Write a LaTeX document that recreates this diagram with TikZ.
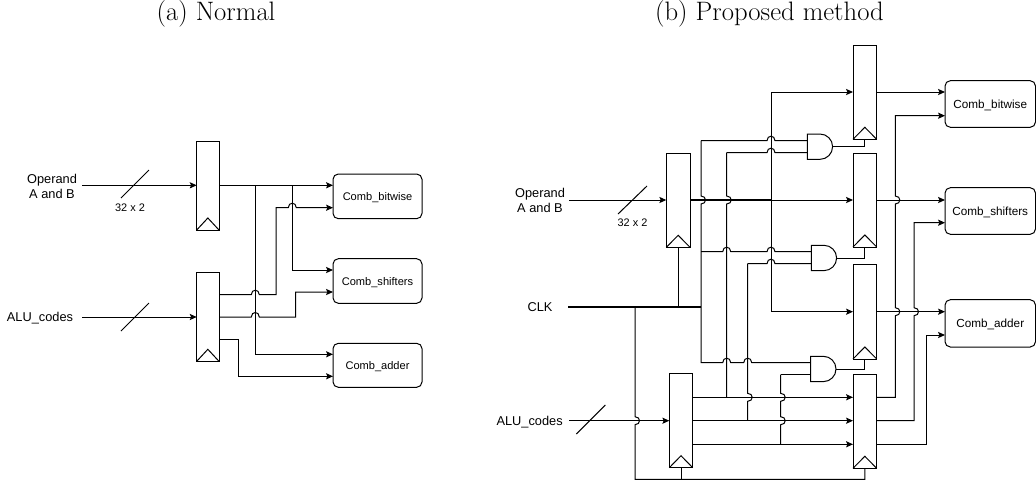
\documentclass[tikz,border=0pt]{standalone}
\usepackage{fontspec}
\setmainfont{Liberation Sans}
\newfontfamily\capfont{Latin Modern Roman}
\usetikzlibrary{arrows.meta}
\tikzset{
  x=0.75pt,y=-0.75pt,
  wire/.style={line width=0.75pt,black,line join=miter},
  fat/.style={line width=1.1pt,black},
  arr/.style={wire,-{Stealth[length=5.2pt,width=4.6pt,inset=1pt]}},
  rarr/.style={wire,{Stealth[length=5.2pt,width=4.6pt,inset=1pt]}-},
  regbox/.style={draw,line width=0.75pt,rectangle,inner sep=0pt,outer sep=0pt},
  combbox/.style={draw,line width=0.75pt,rectangle,rounded corners=4pt,inner sep=0pt,outer sep=0pt,align=center,text depth=0pt},
  lab/.style={inner sep=0pt,font=\fontsize{9.6pt}{11.6pt}\selectfont,align=center},
  small/.style={inner sep=0pt,font=\fontsize{8.2pt}{10pt}\selectfont},
  caption/.style={inner sep=0pt,font=\capfont\fontsize{20pt}{24pt}\selectfont},
}
% horizontal wire hopping up over a vertical one (x, y), left to right
\newcommand{\hj}[2]{-- (#1-4,#2) .. controls (#1-4,#2-6) and (#1+4,#2-6) .. (#1+4,#2)}
% vertical wire hopping right over a horizontal one (x, y), top to bottom
\newcommand{\vj}[2]{-- (#1,#2-4) .. controls (#1+6,#2-4) and (#1+6,#2+4) .. (#1,#2+4)}
% register: name, x1, y1, x2, y2
\newcommand{\regist}[5]{%
  \node[regbox,minimum width={(#4-#2)*0.75pt},minimum height={(#5-#3)*0.75pt}] (#1) at ({(#2+#4)/2},{(#3+#5)/2}) {};
  \draw[line width=0.75pt,line join=miter] (#1.south west) -- ([yshift=9pt]#1.south) -- (#1.south east);}
% box: name, x1, y1, x2, y2, font size, text
\newcommand{\comb}[7]{%
  \node[combbox,minimum width={(#4-#2)*0.75pt},minimum height={(#5-#3)*0.75pt},font=\fontsize{#6}{#6}\selectfont] (#1) at ({(#2+#4)/2},{(#3+#5)/2}) {#7};}
% AND gate: name, x1, ytop, ybottom
\newcommand{\andgate}[4]{%
  \node[inner sep=0pt,outer sep=0pt,minimum width=19pt,minimum height={(#4-#3)*0.75pt}] (#1) at ({#2+12.65},{(#3+#4)/2}) {};
  \draw[line width=0.75pt,line join=miter] (#1.north west) -- ++(12.65,0) arc[start angle=90,end angle=-90,x radius=9.5pt,y radius=9.5pt] -- (#1.south west) -- cycle;}
\begin{document}
\begin{tikzpicture}
\useasboundingbox (0,0) rectangle (1036,483);
\node[caption] (capa) at (216,14) {(a) Normal};
\node[caption] (capb) at (769.5,14) {(b) Proposed method};

%%% left panel
\regist{LA}{196.7}{141}{219}{230}
\regist{LB}{196.7}{272.7}{219}{361.3}
\comb{Lbit}{333}{174}{422}{218.7}{8.3pt}{Comb\_bitwise}
\comb{Lshi}{333}{258.7}{422}{303.3}{8.3pt}{Comb\_shifters}
\comb{Ladd}{333}{343.3}{422}{387.3}{8.3pt}{Comb\_adder}
\node[lab] (Lop) at (52,186.5) {Operand\\A and B};
\node[lab,text depth=0pt] (Lalu) at (40,317) {ALU\_codes};
\node[small] (L32) at (130,208) {32 x 2};
\coordinate (Lopin) at (82,185.3);
\coordinate (Laluin) at (82,317);
\coordinate (LAi) at (196.7,185.3);
\coordinate (LBi) at (196.7,317);
\draw[arr] (Lopin) -- (LAi);
\draw[arr] (Laluin) -- (LBi);
\coordinate (Ls1a) at (121,198); \coordinate (Ls1b) at (149,170);
\coordinate (Ls2a) at (121,331); \coordinate (Ls2b) at (149,303);
\draw[wire] (Ls1a) -- (Ls1b);
\draw[wire] (Ls2a) -- (Ls2b);
\coordinate (LAo) at (219,185.3);
\coordinate (Lb1) at (333,185.3);
\coordinate (Lb2) at (333,207.7);
\coordinate (Ls1) at (333,270);
\coordinate (Ls2) at (333,292);
\coordinate (La1) at (333,354.3);
\coordinate (La2) at (333,376.3);
\draw[arr] (LAo) -- (Lb1);
\draw[arr] (255.3,185.3) |- (La1);
\draw[arr] (292.3,185.3) |- (Ls1);
\draw[arr] (219,294.7) \hj{255.3}{294.7} -- (276,294.7) -- (276,207.7) \hj{292.3}{207.7} -- (Lb2);
\draw[arr] (219,317) \hj{255.3}{317} -- (295.7,317) -- (295.7,292) -- (Ls2);
\draw[arr] (219,339) -- (238.7,339) -- (238.7,376.3) -- (La2);

%%% right panel
\regist{RA}{666.3}{153}{690}{247.3}
\regist{R1}{853}{45.3}{876.7}{139.3}
\regist{R2}{853}{153}{876.7}{247}
\regist{R3}{853}{264.7}{876.7}{359}
\regist{R4}{853}{374.3}{876.7}{468.3}
\regist{RB}{669.3}{373.7}{692.7}{467.7}
\comb{Rbit}{945}{80.7}{1035.5}{127.3}{8.8pt}{Comb\_bitwise}
\comb{Rshi}{945}{187.7}{1035.5}{234.3}{8.8pt}{Comb\_shifters}
\comb{Radd}{945}{299.7}{1035.5}{347}{8.8pt}{Comb\_adder}
\andgate{G1}{807.3}{134}{159.3}
\andgate{G2}{811.3}{245.3}{270.7}
\andgate{G3}{810.7}{356.3}{381.7}
\node[lab] (Rop) at (540,200.5) {Operand\\A and B};
\node[lab] (Rclk) at (540,307) {CLK};
\node[lab,anchor=east,text depth=0pt] (Ralu) at (563,421) {ALU\_codes};
\node[small] (R32) at (632.5,223) {32 x 2};

\coordinate (Ropin) at (569,200);
\coordinate (RAi) at (666.3,200);
\draw[arr] (Ropin) -- (RAi);
\coordinate (Rs1a) at (618,214); \coordinate (Rs1b) at (647,186);
\draw[wire] (Rs1a) -- (Rs1b);
\coordinate (Rs2a) at (576.3,434); \coordinate (Rs2b) at (605.3,405);
\draw[wire] (Rs2a) -- (Rs2b);
\coordinate (Ralin) at (569,420.7);
\coordinate (RBi) at (669.3,420.7);
\draw[arr] (Ralin) -- (RBi);

% main data bus
\coordinate (RAo) at (690,200);
\coordinate (Rjn) at (771,200);
\coordinate (R1i) at (853,92);
\coordinate (R2i) at (853,200);
\coordinate (R3i) at (853,311.7);
\draw[fat] (RAo) -- (Rjn);
\draw[arr] (Rjn) -- (R2i);
\draw[arr] (Rjn) |- (R1i);
\draw[arr] (Rjn) |- (R3i);

% clock
\coordinate (Rck) at (568,307);
\coordinate (Rck2) at (701,307);
\coordinate (Rck3) at (635,307);
\coordinate (Rbot) at (635,479.3);
\draw[fat] (Rck) -- (Rck2);
\draw[wire] (RA.south) -- (RA.south |- Rck);
\draw[wire] (Rck3) \vj{635}{420.7} -- (Rbot) -| (R4.south);
\draw[wire] (RB.south) -- (RB.south |- Rbot);

% enable tree
\coordinate (G1a) at (807.3,140.7);
\coordinate (G1b) at (807.3,152.7);
\coordinate (G2a) at (811.3,251.7);
\coordinate (G2b) at (811.3,263.7);
\coordinate (G3a) at (810.7,362.7);
\coordinate (G3b) at (810.7,374.7);
\draw[wire] (701,140.7) \hj{771}{140.7} -- (G1a);
\draw[wire] (701,140.7) \vj{701}{200} -- (701,362.7) \hj{726.7}{362.7} \hj{747.7}{362.7} -- (G3a);
\draw[wire] (701,251.7) \hj{726.7}{251.7} \hj{771}{251.7} -- (G2a);
\draw[wire] (726.7,152.7) \hj{771}{152.7} -- (G1b);
\draw[wire] (726.7,152.7) \vj{726.7}{200} -- (726.7,397.3);
\draw[wire] (747.7,263.7) \hj{771}{263.7} -- (G2b);
\draw[wire] (747.7,263.7) \vj{747.7}{397.3} -- (747.7,420.7);
\draw[wire] (780.7,374.7) -- (G3b);
\draw[wire] (780.7,374.7) \vj{780.7}{397.3} \vj{780.7}{420.7} -- (780.7,444.3);

% gate outputs to clock pins
\draw[wire] (G1.east) -| (R1.south);
\draw[wire] (G2.east) -| (R2.south);
\draw[wire] (G3.east) -| (R3.south);

% code register to second stage
\coordinate (RBo1) at (692.7,397.3);
\coordinate (RBo2) at (692.7,420.7);
\coordinate (RBo3) at (692.7,444.3);
\coordinate (R4i1) at (853,397.3);
\coordinate (R4i2) at (853,420.7);
\coordinate (R4i3) at (853,444.3);
\draw[arr] (RBo1) -- (R4i1);
\draw[arr] (RBo2) -- (R4i2);
\draw[arr] (RBo3) -- (R4i3);

% second stage to combinational blocks
\coordinate (Bi1) at (945,92);
\coordinate (Bi2) at (945,115.7);
\coordinate (Si1) at (945,200);
\coordinate (Si2) at (945,222.7);
\coordinate (Ai1) at (945,311.7);
\coordinate (Ai2) at (945,335);
\draw[arr] (876.7,92) -- (Bi1);
\draw[arr] (876.7,200) -- (Si1);
\draw[arr] (876.7,311.7) -- (Ai1);
\draw[rarr] (Bi2) -- (895.3,115.7) \vj{895.3}{200} \vj{895.3}{311.7} -- (895.3,397.3) -- (876.7,397.3);
\draw[rarr] (Si2) -- (914,222.7) \vj{914}{311.7} -- (914,420.7) -- (876.7,420.7);
\draw[rarr] (Ai2) -- (926,335) -- (926,444.3) -- (876.7,444.3);
\end{tikzpicture}
\end{document}
